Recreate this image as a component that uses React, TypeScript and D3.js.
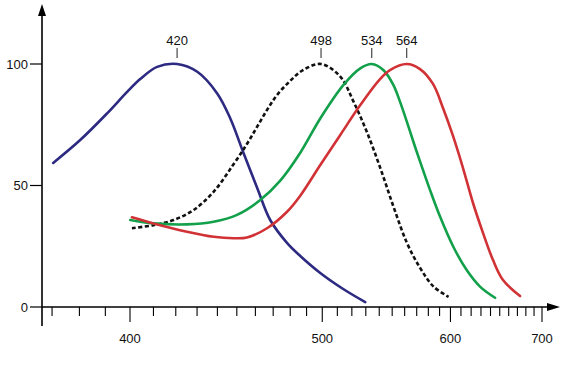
import React from "react";
import * as d3 from "d3";

// Wavelength (nm) and relative response (%)
const sWave = [370.4, 380.3, 390.8, 398.8, 404.3, 411.6, 420.6, 430.1, 439.9, 446.6, 453.4, 461, 468.3, 478.2, 486.1, 498.7, 514, 529.6];
const sResp = [59.3, 68.7, 79.8, 88.5, 93.8, 98.8, 100, 96.8, 87.9, 77.6, 63.7, 49, 35.8, 26.3, 21, 14, 7.4, 2];

const rodWave = [400.8, 410, 419, 428.3, 438.1, 448, 455.4, 460.9, 466.5, 472.2, 479.9, 487.8, 499.2, 512, 521.2, 530.8, 540.8, 551.1, 561.9, 573, 584.6, 598.3];
const rodResp = [32.4, 33.7, 35.8, 39.9, 47.4, 58.4, 67.1, 74.1, 81.1, 87.2, 93, 97.5, 100, 94.8, 84.5, 72, 57.2, 41.2, 26.3, 16, 8.4, 4.2];

const mWave = [400.1, 410, 425.2, 438.1, 450.1, 462.7, 474.1, 486.1, 498.7, 514.2, 526, 534.4, 543.1, 550.9, 556.2, 561.7, 567.2, 572.8, 581.5, 590.4, 602.7, 615.6, 629, 644.9];
const mResp = [35.8, 34.4, 34, 35.1, 37.9, 44, 52, 63.5, 77.6, 91.4, 98.2, 100, 97.5, 91.4, 84.5, 76.4, 68, 59.9, 48.1, 37.2, 24.8, 15.2, 8.4, 3.8];

const lWave = [400.8, 410, 425.2, 438.1, 448.3, 455.4, 466.5, 478.1, 486.1, 498.7, 512, 526, 540.6, 548.3, 561.7, 572.8, 584.1, 593.1, 602.4, 612, 621.9, 632.1, 642.7, 653.6, 673.1];
const lResp = [36.9, 34.4, 31, 28.9, 28.3, 28.6, 32.4, 39.2, 45.8, 58.4, 70.8, 83.1, 93.8, 97.5, 100, 97.9, 91.8, 81.9, 70.4, 57.2, 42.8, 30.5, 19.3, 11.1, 4.5];

const peakLabels = ["420", "498", "534", "564"];
const xTickLabels = [400, 500, 600, 700];
const yTickLabels = [0, 50, 100];

const series = [
  { wave: sWave, resp: sResp, color: "#2d2a82", dash: null, label: peakLabels[0] },
  { wave: rodWave, resp: rodResp, color: "#111111", dash: "4,2.5", label: peakLabels[1] },
  { wave: mWave, resp: mResp, color: "#13a04a", dash: null, label: peakLabels[2] },
  { wave: lWave, resp: lResp, color: "#d13236", dash: null, label: peakLabels[3] },
];

const W = 562;
const H = 365;
const axisX = 42;
const axisY = 307;

// x axis is linear in wavenumber (1/λ)
const inv = d3.scaleLinear().domain([1 / 400, 1 / 700]).range([130, 542]);
const x = (w: number) => inv(1 / w);
const y = d3.scaleLinear().domain([0, 100]).range([axisY, 64]);

const font = "'Liberation Sans', Arial, Helvetica, sans-serif";

export default function App() {
  const minorTicks = d3.range(370, 701, 10);
  const gen = d3
    .line<[number, number]>()
    .x((d) => d[0])
    .y((d) => d[1])
    .curve(d3.curveCatmullRom.alpha(0.5));

  return (
    <svg
      width={W}
      height={H}
      style={{ position: "absolute", left: 0, top: 0, background: "#fff" }}
      fontFamily={font}
    >
      {series.map((s, i) => {
        const pts: [number, number][] = s.wave.map((w, j) => [x(w), y(s.resp[j])]);
        return (
          <path
            key={i}
            d={gen(pts) || ""}
            fill="none"
            stroke={s.color}
            strokeWidth={2.6}
            strokeDasharray={s.dash || undefined}
            strokeLinecap={s.dash ? "butt" : "round"}
          />
        );
      })}

      {/* peak labels */}
      {series.map((s, i) => {
        const idx = d3.maxIndex(s.resp);
        const px = x(s.wave[idx]);
        return (
          <g key={"pk" + i}>
            <line x1={px} x2={px} y1={48} y2={58} stroke="#222" strokeWidth={1} />
            <text x={px} y={45} textAnchor="middle" fontSize={13} fill="#111">
              {s.label}
            </text>
          </g>
        );
      })}

      {/* y axis */}
      <line x1={axisX} x2={axisX} y1={14} y2={326} stroke="#000" strokeWidth={1.6} />
      <path d={`M${axisX},4 L${axisX - 4},16 L${axisX + 4},16 Z`} fill="#000" />
      {yTickLabels.map((v) => (
        <g key={"y" + v}>
          <line x1={axisX - 12} x2={axisX} y1={y(v)} y2={y(v)} stroke="#000" strokeWidth={1.2} />
          <text x={28} y={y(v)} dy="0.35em" textAnchor="end" fontSize={13} fill="#111">
            {v}
          </text>
        </g>
      ))}

      {/* x axis */}
      <line x1={axisX} x2={550} y1={axisY} y2={axisY} stroke="#000" strokeWidth={1.6} />
      <path d={`M560,${axisY} L547,${axisY - 4} L547,${axisY + 4} Z`} fill="#000" />
      {minorTicks.map((t) => {
        const major = xTickLabels.includes(t);
        return (
          <line
            key={"xt" + t}
            x1={x(t)}
            x2={x(t)}
            y1={axisY}
            y2={axisY + (major ? 15 : 9)}
            stroke="#000"
            strokeWidth={1.1}
          />
        );
      })}
      {xTickLabels.map((t) => (
        <text key={"xl" + t} x={x(t)} y={343} textAnchor="middle" fontSize={13} fill="#111">
          {t}
        </text>
      ))}
    </svg>
  );
}
